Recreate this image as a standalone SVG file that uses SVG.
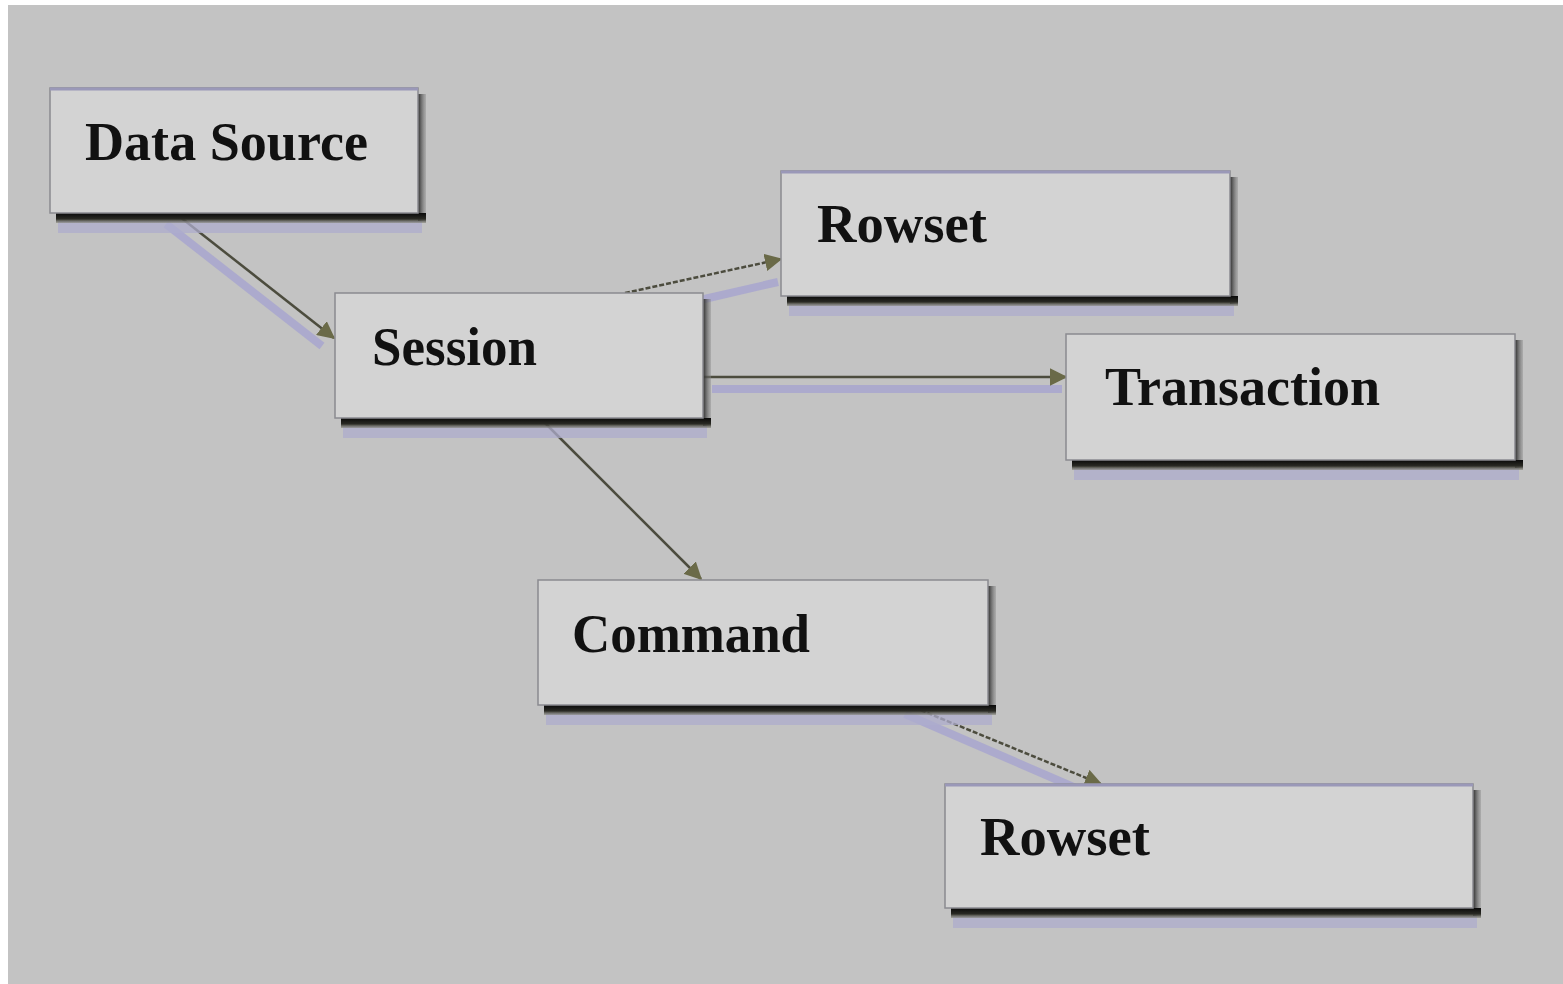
<svg xmlns="http://www.w3.org/2000/svg" width="1563" height="984" viewBox="0 0 1563 984">
<defs>
<style>
.box{fill:#d3d3d3;stroke:#8a8a90;stroke-width:1.5}
.topline{stroke:#9a98b8;stroke-width:3}
.halo{fill:#aeaccc;opacity:0.75}
.label{font-family:"Liberation Serif","Times New Roman",serif;font-weight:bold;font-size:54px;fill:#111}
.edge{stroke:#4c4c3e;stroke-width:2.5;fill:none}
.dash{stroke-dasharray:5 2}
.eshadow{stroke:#a6a4d0;stroke-width:8;fill:none;opacity:0.8}
</style>
<linearGradient id="gb" x1="0" y1="0" x2="0" y2="1">
<stop offset="0" stop-color="#0a0a0a"/>
<stop offset="0.6" stop-color="#2a2a24"/>
<stop offset="1" stop-color="#8a8a80" stop-opacity="0.6"/>
</linearGradient>
<linearGradient id="gr" x1="0" y1="0" x2="1" y2="0">
<stop offset="0" stop-color="#2a2a2a"/>
<stop offset="1" stop-color="#8a8a8a" stop-opacity="0.4"/>
</linearGradient>
<marker id="arr" viewBox="0 0 12 12" refX="11" refY="6" markerWidth="7" markerHeight="7" orient="auto" markerUnits="strokeWidth">
<path d="M0,0 L12,6 L0,12 Z" fill="#6a6a48"/>
</marker>
</defs>
<rect x="0" y="0" width="1563" height="984" fill="#ffffff"/>
<rect x="8" y="5" width="1555" height="979" fill="#c3c3c3"/>

<g id="connectors">
<line class="eshadow" x1="166" y1="224" x2="322" y2="346"/>
<line class="eshadow" x1="700" y1="300" x2="778" y2="282"/>
<line class="eshadow" x1="712" y1="389" x2="1062" y2="389"/>
<line class="eshadow" x1="905" y1="714" x2="1085" y2="792"/>
<line class="edge" x1="175" y1="213" x2="334" y2="338" marker-end="url(#arr)"/>
<line class="edge dash" x1="625" y1="293" x2="781" y2="259" marker-end="url(#arr)"/>
<line class="edge" x1="703" y1="377" x2="1066" y2="377" marker-end="url(#arr)"/>
<line class="edge" x1="540" y1="418" x2="701" y2="579" marker-end="url(#arr)"/>
<line class="edge dash" x1="908" y1="705" x2="1101" y2="784" marker-end="url(#arr)"/>
</g>

<g id="node-data-source">
<rect class="halo" x="58" y="221" width="364" height="12"/>
<rect x="418" y="94" width="8" height="127" fill="url(#gr)"/>
<rect x="56" y="213" width="370" height="10" fill="url(#gb)"/>
<rect class="box" x="50" y="88" width="368" height="125"/>
<line class="topline" x1="50" y1="89" x2="418" y2="89"/>
<text class="label" x="85" y="160" textLength="283" lengthAdjust="spacingAndGlyphs">Data Source</text>
</g>

<g id="node-session">
<rect class="halo" x="343" y="426" width="364" height="12"/>
<rect x="703" y="299" width="8" height="127" fill="url(#gr)"/>
<rect x="341" y="418" width="370" height="10" fill="url(#gb)"/>
<rect class="box" x="335" y="293" width="368" height="125"/>
<text class="label" x="372" y="365" textLength="165" lengthAdjust="spacingAndGlyphs">Session</text>
</g>

<g id="node-rowset-top">
<rect class="halo" x="789" y="304" width="445" height="12"/>
<rect x="1230" y="177" width="8" height="127" fill="url(#gr)"/>
<rect x="787" y="296" width="451" height="10" fill="url(#gb)"/>
<rect class="box" x="781" y="171" width="449" height="125"/>
<line class="topline" x1="781" y1="172" x2="1230" y2="172"/>
<text class="label" x="817" y="242" textLength="170" lengthAdjust="spacingAndGlyphs">Rowset</text>
</g>

<g id="node-transaction">
<rect class="halo" x="1074" y="468" width="445" height="12"/>
<rect x="1515" y="340" width="8" height="128" fill="url(#gr)"/>
<rect x="1072" y="460" width="451" height="10" fill="url(#gb)"/>
<rect class="box" x="1066" y="334" width="449" height="126"/>
<text class="label" x="1105" y="405" textLength="275" lengthAdjust="spacingAndGlyphs">Transaction</text>
</g>

<g id="node-command">
<rect class="halo" x="546" y="713" width="446" height="12"/>
<rect x="988" y="586" width="8" height="127" fill="url(#gr)"/>
<rect x="544" y="705" width="452" height="10" fill="url(#gb)"/>
<rect class="box" x="538" y="580" width="450" height="125"/>
<text class="label" x="572" y="652" textLength="238" lengthAdjust="spacingAndGlyphs">Command</text>
</g>

<g id="node-rowset-bottom">
<rect class="halo" x="953" y="916" width="524" height="12"/>
<rect x="1473" y="790" width="8" height="126" fill="url(#gr)"/>
<rect x="951" y="908" width="530" height="10" fill="url(#gb)"/>
<rect class="box" x="945" y="784" width="528" height="124"/>
<line class="topline" x1="945" y1="785" x2="1473" y2="785"/>
<text class="label" x="980" y="855" textLength="170" lengthAdjust="spacingAndGlyphs">Rowset</text>
</g>
</svg>
